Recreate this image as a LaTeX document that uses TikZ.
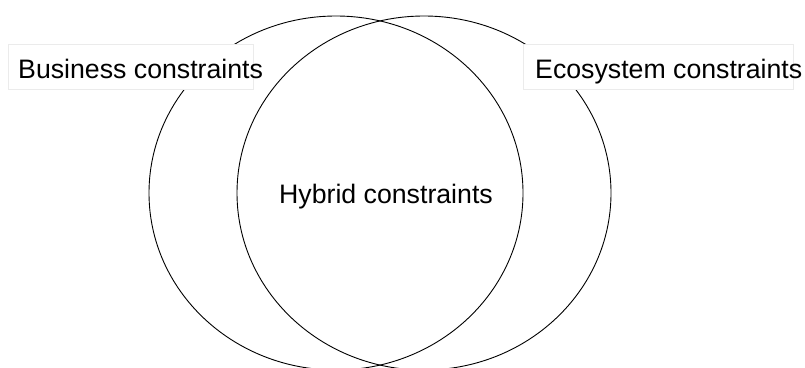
\documentclass[tikz,border=0pt]{standalone}
\usepackage{fontspec}
\setmainfont{Liberation Sans}
\usetikzlibrary{shapes.geometric}
\begin{document}
\begin{tikzpicture}[x=1pt,y=-1pt,
  ring/.style={draw=black,line width=0.9pt,ellipse,inner sep=0pt,
    minimum width=374pt,minimum height=354pt},
  labelbox/.style={draw=black!8,fill=white,line width=0.6pt,inner sep=0pt,
    minimum height=45pt,anchor=north west},
  lbl/.style={inner sep=0pt,font=\fontsize{26.7}{32}\selectfont}]
\useasboundingbox (0,0) rectangle (805,367);
\node[ring] (left) at (336,193) {};
\node[ring] (right) at (424,193) {};
\node[labelbox,minimum width=245pt] (bbox) at (8,44) {};
\node[labelbox,minimum width=270pt] (ebox) at (523,44) {};
\node[lbl,anchor=base west] (btext) at (18,78) {Business constraints};
\node[lbl,anchor=base west] (etext) at (535,78) {Ecosystem constraints};
\node[lbl,anchor=base] (htext) at (386,203) {Hybrid constraints};
\end{tikzpicture}
\end{document}
